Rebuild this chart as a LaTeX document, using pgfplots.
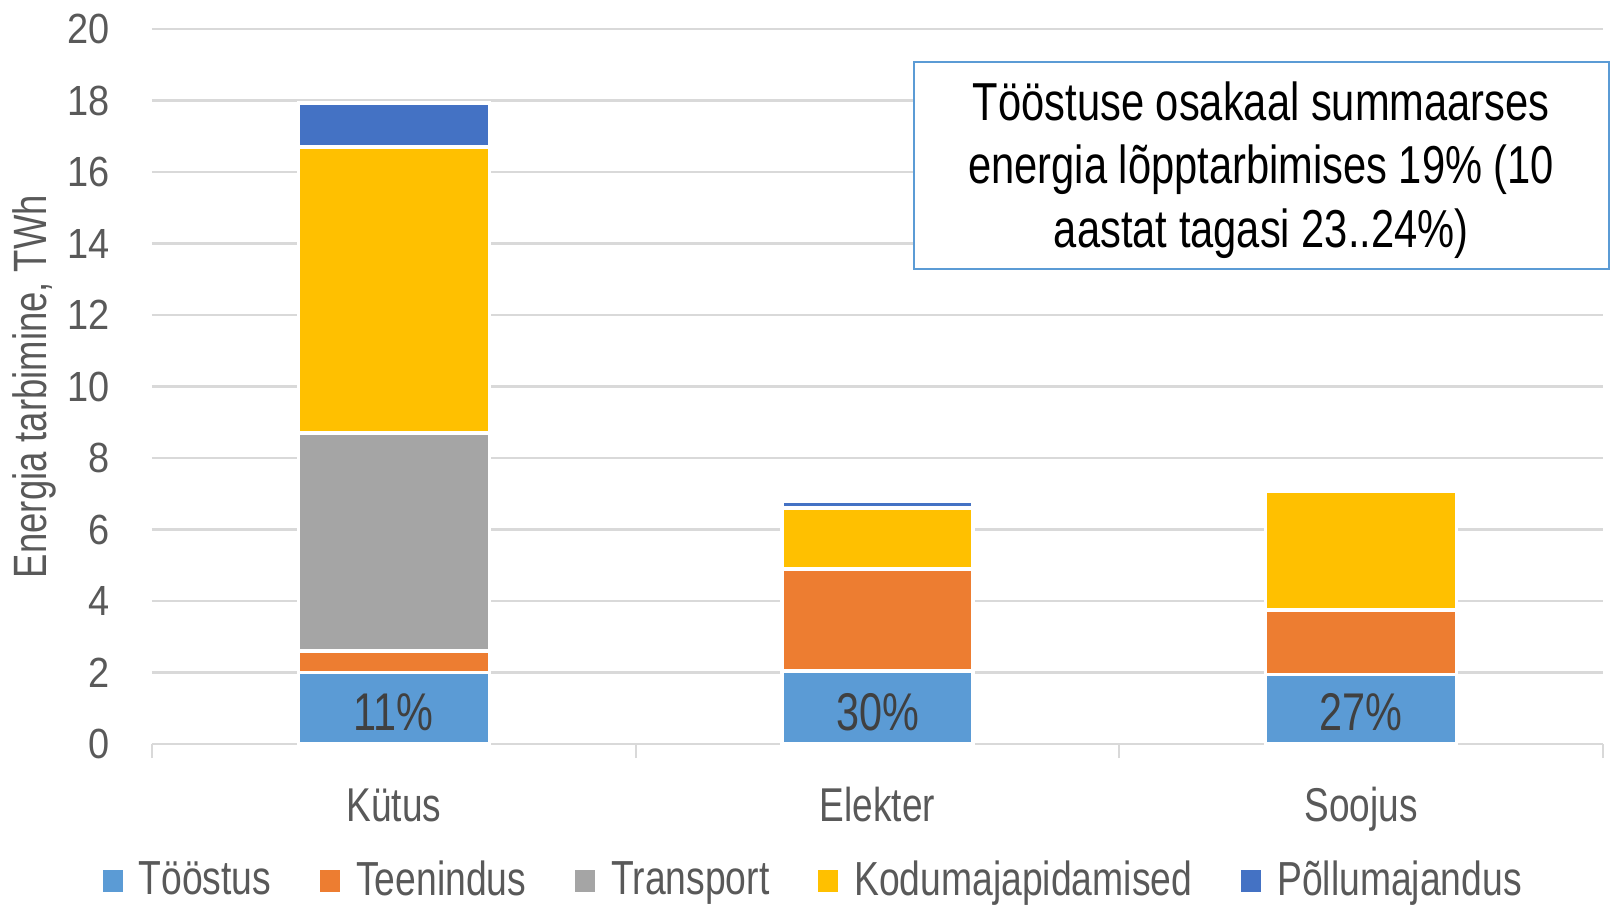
\documentclass[border=0pt]{standalone}
\usepackage{fontspec}
\setmainfont{Liberation Sans}[FakeStretch=0.78]
\newfontfamily\tickf{Liberation Sans}[FakeStretch=0.9]
\usepackage{pgfplots}
\pgfplotsset{compat=1.18}
\definecolor{cToo}{HTML}{5B9BD5}
\definecolor{cTee}{HTML}{ED7D31}
\definecolor{cTra}{HTML}{A5A5A5}
\definecolor{cKod}{HTML}{FFC000}
\definecolor{cPol}{HTML}{4472C4}
\definecolor{txt}{HTML}{595959}
\definecolor{pct}{HTML}{404040}
\definecolor{gridc}{HTML}{D9D9D9}
\begin{document}
\begin{tikzpicture}
\useasboundingbox (-1.52cm,-1.61cm) rectangle (14.59cm,7.44cm);
\begin{axis}[
  at={(0,0)}, anchor=south west,
  scale only axis, width=14.51cm, height=7.15cm,
  ybar stacked, bar width=0.395,
  xmin=-0.5, xmax=2.5, ymin=0, ymax=20,
  clip=false,
  axis y line=left,
  axis x line=bottom,
  y axis line style={draw=none},
  x axis line style={-, draw=gridc, line width=0.6pt},
  xtick={0,1,2}, xticklabels={Kütus,Elekter,Soojus},
  major tick length=0pt,
  ytick style={draw=none},
  extra x ticks={-0.5,0.5,1.5,2.5}, extra x tick labels={},
  extra x tick style={grid=none, major tick length=0.14cm, tick align=outside, tick style={draw=gridc, line width=0.6pt}},
  xticklabel style={anchor=base, yshift=-0.77cm, font=\fontsize{13.5pt}{16pt}\selectfont, text=txt},
  ytick={0,2,...,20},
  ymajorgrids, grid style={draw=gridc, line width=0.6pt},
  yticklabel style={anchor=east, xshift=-0.3cm, font=\tickf\fontsize{12pt}{14pt}\selectfont, text=txt},
  /pgf/number format/assume math mode=true,
  legend columns=5,
  legend style={draw=none, fill=none, at={(-0.0345,-0.1916)}, anchor=west, inner sep=0pt,
    font=\fontsize{13.6pt}{16pt}\selectfont, text=txt,
    nodes={inner sep=0pt},
    /tikz/every odd column/.append style={column sep=0.16cm},
    /tikz/every even column/.append style={column sep=0.49cm}},
  legend image code/.code={\fill[#1, draw=none] (0cm,-0.11cm) rectangle (0.2cm,0.11cm);},
]
\addplot[fill=cToo, draw=white, line width=1pt] coordinates {(0,2.0) (1,2.04) (2,1.95)};
\addplot[fill=cTee, draw=white, line width=1pt] coordinates {(0,0.6) (1,2.85) (2,1.8)};
\addplot[fill=cTra, draw=white, line width=1pt] coordinates {(0,6.1) (1,0) (2,0)};
\addplot[fill=cKod, draw=white, line width=1pt] coordinates {(0,8.0) (1,1.71) (2,3.32)};
\addplot[fill=cPol, draw=white, line width=1pt] coordinates {(0,1.23) (1,0.18)};
\legend{Tööstus,Teenindus,Transport,Kodumajapidamised,Põllumajandus}
\coordinate (p0) at (axis cs:0,0.39);
\coordinate (p1) at (axis cs:1,0.39);
\coordinate (p2) at (axis cs:2,0.39);
\coordinate (b1) at (axis description cs:0.525,0.664);
\coordinate (b2) at (axis description cs:1.004,0.954);
\coordinate (bc) at (axis description cs:0.7645,0.803);
\coordinate (yl) at (axis description cs:-0.0813,0.5);
\end{axis}
\node[anchor=base, text=pct, font=\fontsize{15.1pt}{18pt}\selectfont] at (p0) {11\%};
\node[anchor=base, text=pct, font=\fontsize{15.1pt}{18pt}\selectfont] at (p1) {30\%};
\node[anchor=base, text=pct, font=\fontsize{15.1pt}{18pt}\selectfont] at (p2) {27\%};
\draw[cToo, line width=0.6pt, fill=white] (b1) rectangle (b2);
\node[align=center, text=black, font=\fontsize{15.2pt}{18.07pt}\selectfont] at (bc) {Tööstuse osakaal summaarses\\energia lõpptarbimises 19\% (10\\aastat tagasi 23..24\%)};
\node[rotate=90, text=txt, font=\fontsize{13.3pt}{16pt}\selectfont] at (yl) {Energia tarbimine, TWh};
\end{tikzpicture}
\end{document}
